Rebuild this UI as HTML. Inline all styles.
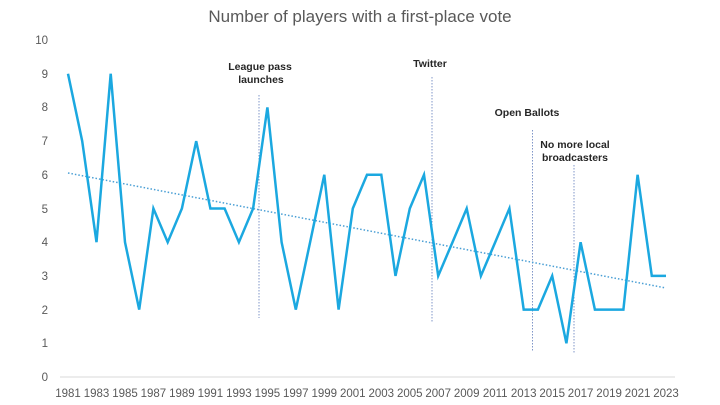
<!DOCTYPE html>
<html><head><meta charset="utf-8"><style>
body{margin:0;background:#fff;}
svg{display:block;font-family:"Liberation Sans",sans-serif;}
</style></head><body>
<svg width="720" height="405" viewBox="0 0 720 405">
<text x="360" y="22" text-anchor="middle" font-size="17" fill="#595959">Number of players with a first-place vote</text>
<line x1="60" y1="377" x2="675" y2="377" stroke="#d9d9d9" stroke-width="1"/>
<g font-size="11.5" fill="#595959" text-anchor="end">
<text x="48" y="381">0</text><text x="48" y="347">1</text><text x="48" y="314">2</text><text x="48" y="280">3</text><text x="48" y="246">4</text><text x="48" y="213">5</text><text x="48" y="179">6</text><text x="48" y="145">7</text><text x="48" y="111">8</text><text x="48" y="78">9</text><text x="48" y="44">10</text>
</g>
<g font-size="11.5" fill="#595959" text-anchor="middle">
<text x="68" y="397">1981</text><text x="96.5" y="397">1983</text><text x="125" y="397">1985</text><text x="153.4" y="397">1987</text><text x="181.9" y="397">1989</text><text x="210.4" y="397">1991</text><text x="238.9" y="397">1993</text><text x="267.4" y="397">1995</text><text x="295.8" y="397">1997</text><text x="324.3" y="397">1999</text><text x="352.8" y="397">2001</text><text x="381.3" y="397">2003</text><text x="409.8" y="397">2005</text><text x="438.2" y="397">2007</text><text x="466.7" y="397">2009</text><text x="495.2" y="397">2011</text><text x="523.7" y="397">2013</text><text x="552.2" y="397">2015</text><text x="580.6" y="397">2017</text><text x="609.1" y="397">2019</text><text x="637.6" y="397">2021</text><text x="666" y="397">2023</text>
</g>
<g stroke="#7f96c8" stroke-width="1" stroke-dasharray="1.5,1.5">
<line x1="259" y1="95" x2="259" y2="318"/>
<line x1="432" y1="77" x2="432" y2="323"/>
<line x1="532.5" y1="130" x2="532.5" y2="352"/>
<line x1="574" y1="165" x2="574" y2="354"/>
</g>
<line x1="68" y1="173" x2="666" y2="288" stroke="#4a9fd5" stroke-width="1.5" stroke-dasharray="1.5,2"/>
<polyline fill="none" stroke="#1ba8e0" stroke-width="2.5" stroke-linejoin="miter" points="68,73.7 82.2,141.1 96.5,242.2 110.7,73.7 125,242.2 139.2,309.6 153.4,208.5 167.7,242.2 181.9,208.5 196.2,141.1 210.4,208.5 224.6,208.5 238.9,242.2 253.1,208.5 267.4,107.4 281.6,242.2 295.8,309.6 310.1,242.2 324.3,174.8 338.6,309.6 352.8,208.5 367,174.8 381.3,174.8 395.5,275.9 409.8,208.5 424,174.8 438.2,275.9 452.5,242.2 466.7,208.5 480.9,275.9 495.2,242.2 509.4,208.5 523.7,309.6 537.9,309.6 552.2,275.9 566.4,343.3 580.6,242.2 594.9,309.6 609.1,309.6 623.4,309.6 637.6,174.8 651.8,275.9 666,275.9"/>
<g font-size="10.5" font-weight="bold" fill="#262626" text-anchor="middle">
<text x="260" y="70">League pass</text><text x="261" y="83">launches</text>
<text x="430" y="67">Twitter</text>
<text x="527" y="116">Open Ballots</text>
<text x="575" y="148">No more local</text><text x="575" y="161">broadcasters</text>
</g>
</svg>
</body></html>
